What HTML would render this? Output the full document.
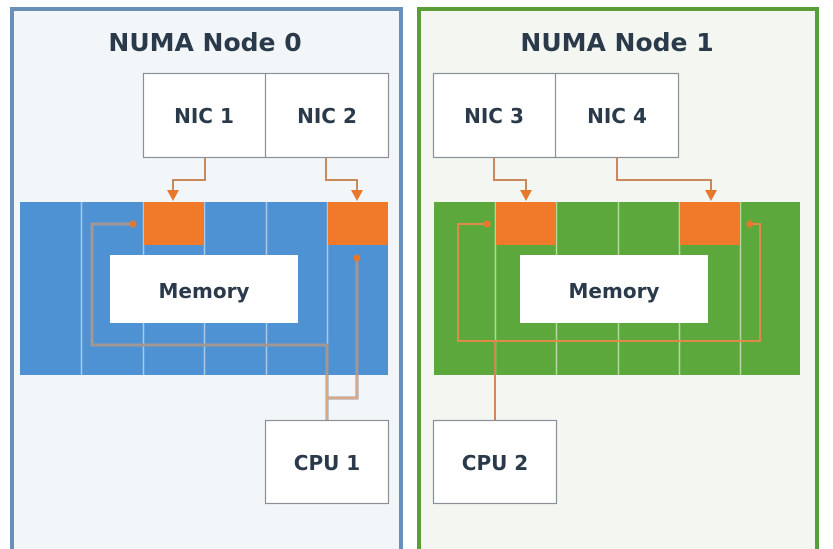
<!DOCTYPE html>
<html><head><meta charset="utf-8"><style>
html,body{margin:0;padding:0;background:#fff;}
svg{display:block;}
text{font-family:"DejaVu Sans","Liberation Sans",sans-serif;font-weight:bold;fill:#2a3a4a;}
</style></head><body>
<svg width="833" height="549" viewBox="0 0 833 549" xmlns="http://www.w3.org/2000/svg">
<rect width="833" height="549" fill="#fff"/>
<!-- Left panel -->
<rect x="12" y="9" width="389" height="545" fill="#f3f6f9" stroke="#6a8fb8" stroke-width="4"/>
<text x="205" y="51" font-size="25" text-anchor="middle">NUMA Node 0</text>
<rect x="143.5" y="73.5" width="245" height="84" fill="#fff" stroke="#8a9098" stroke-width="1.2"/>
<line x1="265.5" y1="73" x2="265.5" y2="158" stroke="#8a9098" stroke-width="1.2"/>
<text x="204" y="123" font-size="20" text-anchor="middle">NIC 1</text>
<text x="327" y="123" font-size="20" text-anchor="middle">NIC 2</text>
<rect x="20" y="202" width="368" height="173" fill="#4e92d4"/>
<g stroke="#a8c8ea" stroke-width="1.5">
<line x1="81.5" y1="202" x2="81.5" y2="375"/><line x1="143.5" y1="202" x2="143.5" y2="375"/>
<line x1="204.5" y1="202" x2="204.5" y2="375"/><line x1="266.5" y1="202" x2="266.5" y2="375"/>
<line x1="327.5" y1="202" x2="327.5" y2="375"/>
</g>
<rect x="144" y="202" width="60" height="43" fill="#f07a2a"/>
<rect x="328" y="202" width="60" height="43" fill="#f07a2a"/>
<rect x="110" y="255" width="188" height="68" fill="#fff"/>
<text x="204" y="298" font-size="20" text-anchor="middle">Memory</text>
<path d="M205,158 V180 H173 V192" fill="none" stroke="#c9895a" stroke-width="2"/>
<path d="M167,190 H179 L173,201 z" fill="#e8772e"/>
<path d="M326,158 V180 H357 V192" fill="none" stroke="#c9895a" stroke-width="2"/>
<path d="M351,190 H363 L357,201 z" fill="#e8772e"/>
<path d="M133,224 H92 V345 H327 V420" fill="none" stroke="#a19795" stroke-width="3"/>
<path d="M357,258 V398 H327" fill="none" stroke="#a19795" stroke-width="3"/>
<path d="M327,375 V420 M357,375 V398 H327" fill="none" stroke="#d9a888" stroke-width="2"/>
<circle cx="133" cy="224" r="3.5" fill="#e8772e"/>
<circle cx="357" cy="258" r="3.5" fill="#e8772e"/>
<rect x="265.5" y="420.5" width="123" height="83" fill="#fff" stroke="#8a9098" stroke-width="1.2"/>
<text x="327" y="470" font-size="20" text-anchor="middle">CPU 1</text>
<!-- Right panel -->
<rect x="419" y="9" width="398" height="545" fill="#f3f6f1" stroke="#5a9e3a" stroke-width="4"/>
<text x="617" y="51" font-size="25" text-anchor="middle">NUMA Node 1</text>
<rect x="433.5" y="73.5" width="245" height="84" fill="#fff" stroke="#8a9098" stroke-width="1.2"/>
<line x1="555.5" y1="73" x2="555.5" y2="158" stroke="#8a9098" stroke-width="1.2"/>
<text x="494" y="123" font-size="20" text-anchor="middle">NIC 3</text>
<text x="617" y="123" font-size="20" text-anchor="middle">NIC 4</text>
<rect x="434" y="202" width="366" height="173" fill="#5ca83c"/>
<g stroke="#b6d8a0" stroke-width="1.5">
<line x1="495.5" y1="202" x2="495.5" y2="375"/><line x1="556.5" y1="202" x2="556.5" y2="375"/>
<line x1="618.5" y1="202" x2="618.5" y2="375"/><line x1="679.5" y1="202" x2="679.5" y2="375"/>
<line x1="740.5" y1="202" x2="740.5" y2="375"/>
</g>
<rect x="496" y="202" width="60" height="43" fill="#f07a2a"/>
<rect x="680" y="202" width="60" height="43" fill="#f07a2a"/>
<rect x="520" y="255" width="188" height="68" fill="#fff"/>
<text x="614" y="298" font-size="20" text-anchor="middle">Memory</text>
<path d="M494,158 V180 H526 V192" fill="none" stroke="#c9895a" stroke-width="2"/>
<path d="M520,190 H532 L526,201 z" fill="#e8772e"/>
<path d="M617,158 V180 H711 V192" fill="none" stroke="#c9895a" stroke-width="2"/>
<path d="M705,190 H717 L711,201 z" fill="#e8772e"/>
<path d="M487,224 H458 V341 H760 V224 H750" fill="none" stroke="#e08a4a" stroke-width="2"/>
<path d="M495,341 V420" fill="none" stroke="#d08858" stroke-width="2"/>
<circle cx="487" cy="224" r="3.5" fill="#e8772e"/>
<circle cx="750" cy="224" r="3.5" fill="#e8772e"/>
<rect x="433.5" y="420.5" width="123" height="83" fill="#fff" stroke="#8a9098" stroke-width="1.2"/>
<text x="495" y="470" font-size="20" text-anchor="middle">CPU 2</text>
</svg>
</body></html>
